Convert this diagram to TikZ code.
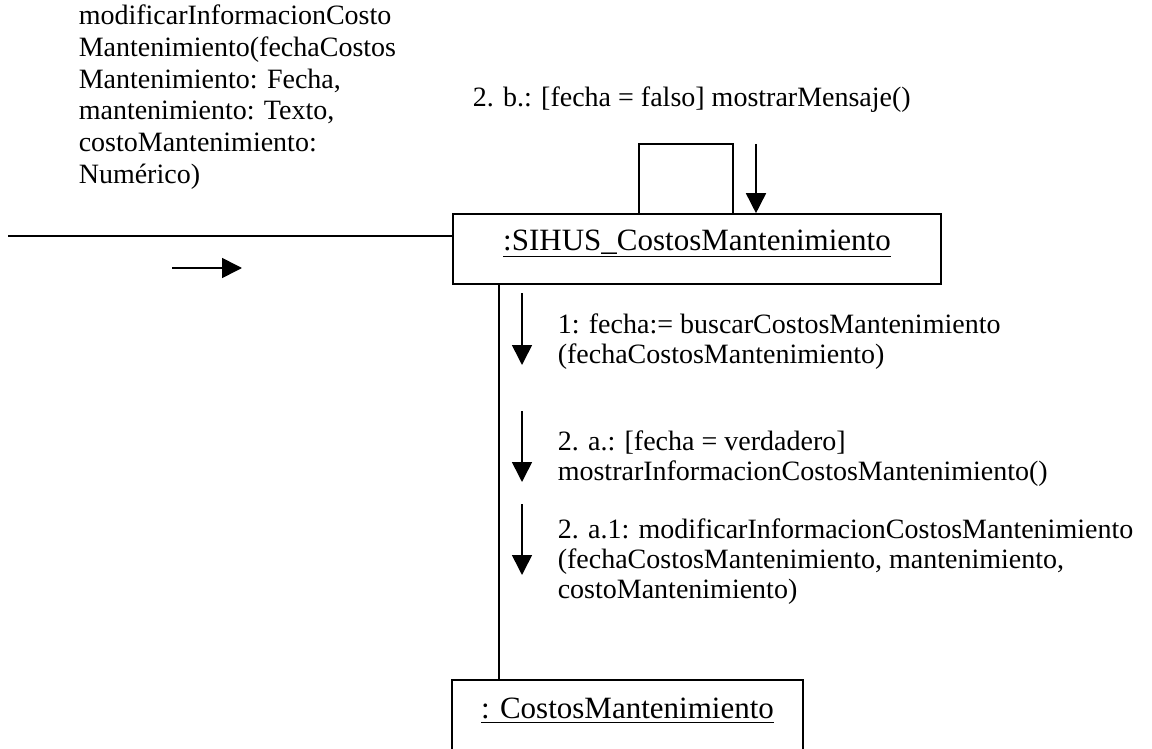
\documentclass[tikz,border=0pt]{standalone}
\usepackage{fontspec}
\setmainfont{Liberation Serif}
\usepackage{tikz}
\usetikzlibrary{arrows.meta}

\begin{document}
\begin{tikzpicture}[x=0.5pt, y=-0.5pt,
    line width=0.8pt,
    >={Triangle[width=10pt, length=10pt]},
    objbox/.style={draw, inner sep=0pt, align=center,
        font=\fontsize{15.5}{17}\selectfont},
    msgtext/.style={anchor=base west, inner sep=0pt, align=left,
        font=\fontsize{14}{15}\selectfont}]

\useasboundingbox (0,0) rectangle (1152,749);

% Objects
\node[objbox, minimum width=244pt, text height=18pt, text depth=17pt]
    (sihus) at (697,249) {\underline{:SIHUS\_CostosMantenimiento}};
\node[objbox, anchor=north, minimum width=175.5pt, text height=19.5pt, text depth=20pt]
    (costos) at (627.5,679) {\underline{: CostosMantenimiento}};

% Incoming message from the actor (base = last line)
\coordinate (actor) at (8,236);
\draw (actor) -- (actor -| sihus.west);
\coordinate (inA) at (172,268);
\coordinate (inB) at (242,268);
\draw[->] (inA) -- (inB);
\node[msgtext, font=\fontsize{14}{15.9}\selectfont] (inmsg) at (78,183.5)
    {modificarInformacionCosto\\Mantenimiento(fechaCostos\\Mantenimiento: Fecha,\\mantenimiento: Texto,\\costoMantenimiento:\\Numérico)};

% Self message
\coordinate (loopL) at (639,144);
\coordinate (loopR) at (733,144);
\draw (loopL |- sihus.north) -- (loopL) -- (loopR) -- (loopR |- sihus.north);
\coordinate (selfA) at (756,144);
\draw[->] (selfA) -- (selfA |- sihus.north);
\node[msgtext] (selfmsg) at (472,107) {2. b.: [fecha = falso] mostrarMensaje()};

% Link between the objects
\coordinate (link) at (499,0);
\draw (sihus.south -| link) -- (costos.north -| link);

% Messages along the link
\foreach \top/\tip [count=\i] in {293/365, 411/482, 504/575}
    \draw[->] (522,\top) coordinate (m\i top) -- (522,\tip) coordinate (m\i tip);
\node[msgtext] (msg1) at (557,363)
    {1: fecha:= buscarCostosMantenimiento\\(fechaCostosMantenimiento)};
\node[msgtext] (msg2) at (557,480)
    {2. a.: [fecha = verdadero]\\mostrarInformacionCostosMantenimiento()};
\node[msgtext] (msg3) at (557,598)
    {2. a.1: modificarInformacionCostosMantenimiento\\(fechaCostosMantenimiento, mantenimiento,\\costoMantenimiento)};

\end{tikzpicture}
\end{document}
